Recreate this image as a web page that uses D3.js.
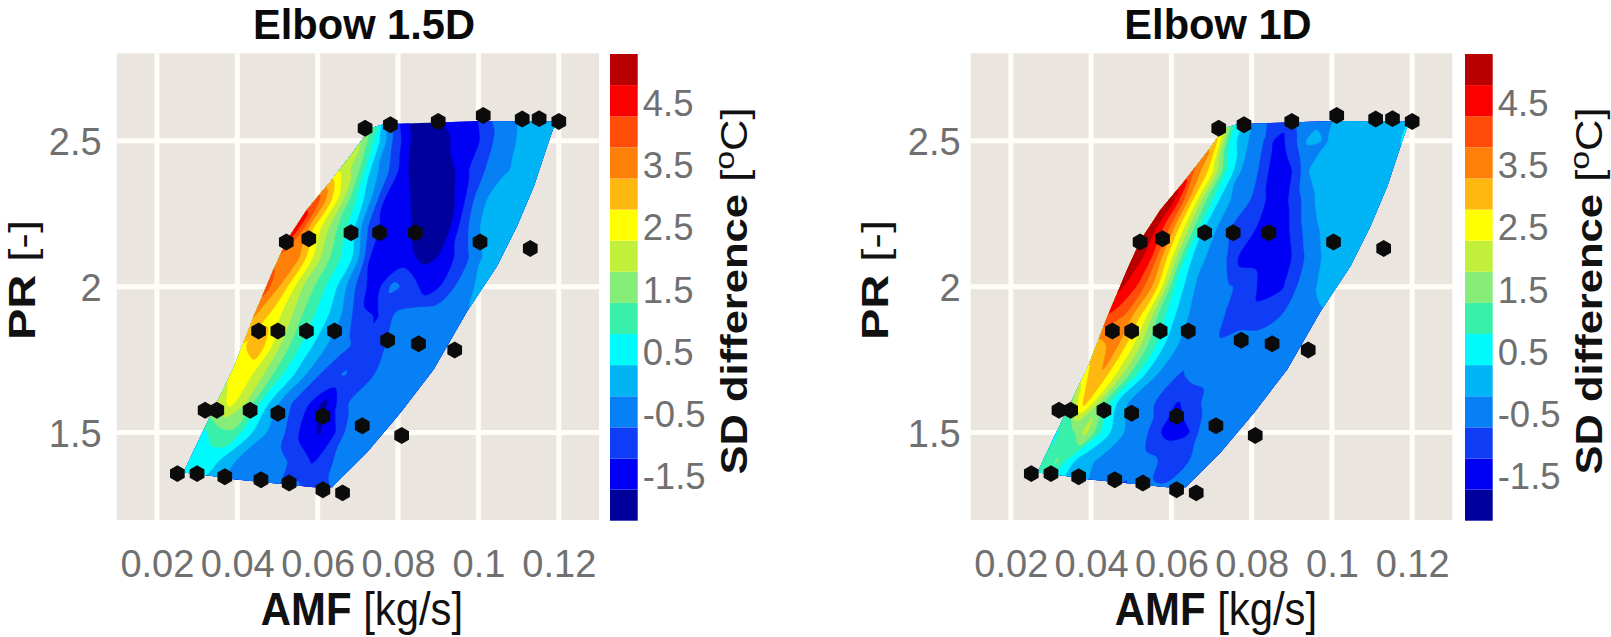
<!DOCTYPE html>
<html>
<head>
<meta charset="utf-8">
<script src="https://cdn.jsdelivr.net/npm/d3@7"></script>
<style>
  html, body { margin: 0; background: #fff; }
  svg { display: block; font-family: "Liberation Sans", Arial, sans-serif; }
  .tick-label { fill: #707070; font-size: 38px; }
  .legend-label { font-size: 36.5px; }
  .title { font-size: 42.5px; font-weight: bold; fill: #0a0a0a; }
  .axis-label { font-size: 46px; fill: #111; }
  .axis-label .b { font-weight: bold; }
</style>
</head>
<body>
<div id="chart"></div>
<script>
const amfTicks = [0.02, 0.04, 0.06, 0.08, 0.1, 0.12];
const prTicks = [1.5, 2, 2.5];
const legendTicks = [-1.5, -0.5, 0.5, 1.5, 2.5, 3.5, 4.5];

// lower edge of each contour band, and its colour
const bandEdges = [-2.25, -1.75, -1.25, -0.75, -0.25, 0.25, 0.75, 1.25, 1.75, 2.25, 2.75, 3.25, 3.75, 4.25, 4.75];
const bandColors = ['#00009c', '#0000f5', '#0f3cf5', '#0880f5', '#00b4f5', '#00fbff', '#38f0aa', '#86ee78',
  '#c2f03a', '#ffff00', '#ffb80f', '#ff8008', '#ff4c08', '#fc0000', '#b80000'];

// test points
const markerAmf = [0.0718, 0.0781, 0.09, 0.1012, 0.1109, 0.1151, 0.12,
  0.0522, 0.0578, 0.0683, 0.0754, 0.0843, 0.1004, 0.1129,
  0.0453, 0.0501, 0.0572, 0.0642, 0.0774, 0.0851, 0.0941,
  0.032, 0.0349, 0.0432, 0.0501, 0.0613, 0.0711, 0.0809,
  0.0251, 0.03, 0.0369, 0.0459, 0.0529, 0.0613, 0.0662];
const markerPr = [2.543, 2.555, 2.566, 2.587, 2.575, 2.576, 2.566,
  2.153, 2.164, 2.185, 2.185, 2.185, 2.153, 2.131,
  1.848, 1.848, 1.848, 1.848, 1.816, 1.804, 1.783,
  1.576, 1.576, 1.576, 1.566, 1.556, 1.523, 1.49,
  1.359, 1.359, 1.348, 1.338, 1.327, 1.304, 1.293];

// outline of the mapped area
const outlineAmf = [0.0266, 0.0333, 0.0391, 0.0441, 0.049, 0.0524, 0.0573, 0.0632, 0.069, 0.0731, 0.0764, 0.1009, 0.1192,
  0.1171, 0.1138, 0.1096, 0.1046, 0.0972, 0.0889, 0.0806, 0.0723, 0.064, 0.0636, 0.059, 0.0391, 0.0333];
const outlinePr = [1.363, 1.557, 1.722, 1.899, 2.059, 2.161, 2.264, 2.361, 2.464, 2.543, 2.557, 2.568, 2.566,
  2.481, 2.344, 2.207, 2.07, 1.916, 1.717, 1.568, 1.432, 1.318, 1.312, 1.312, 1.34, 1.352];

// each field row runs from leftEdge to rightEdge at its PR level
const prLevels = [2.6, 2.5, 2.4, 2.3, 2.2, 2.1, 2.0, 1.9, 1.8, 1.7, 1.6, 1.5, 1.4, 1.3];
const leftEdge = [0.0764, 0.071, 0.0655, 0.0598, 0.0544, 0.0503, 0.047, 0.0441, 0.0416, 0.0383, 0.0345, 0.0312, 0.0279, 0.0246];
const rightEdge = [0.1221, 0.1179, 0.1154, 0.1129, 0.11, 0.1059, 0.1013, 0.0968, 0.0922, 0.0868, 0.081, 0.0752, 0.069, 0.0632];

const sdElbow15 = [
  [0.4, -1.2, -2.1, -2.2, -1.5, -1.0, -1.4, -0.7, -0.5, -0.2, 0, 0, 0],
  [1.7, 0.4, -0.8, -1.7, -2.2, -2.2, -1.5, -1.6, -0.9, -0.5, -0.2, 0, 0],
  [2.2, 1.5, 0, -0.8, -1.7, -2.2, -2.2, -1.7, -1.1, -0.6, -0.3, 0, 0],
  [4.0, 2.5, 1.0, -0.2, -1.5, -1.6, -2.2, -2.2, -1.6, -0.6, 0, 0, 0],
  [4.6, 2.7, 1.5, 0.5, -0.9, -1.6, -1.6, -2.2, -2.1, -1.0, -0.2, 0, 0],
  [3.6, 3.4, 2.0, 1.0, 0.2, -1.4, -1.6, -1.6, -2.0, -1.5, -0.9, -0.2, 0],
  [4.0, 3.0, 1.8, 1.0, 0.2, -0.8, -1.6, -0.6, -1.0, -1.6, -1.0, -0.4, -0.1],
  [3.3, 2.6, 1.9, 1.0, 0.4, -0.3, -1.1, -1.3, -0.7, -0.4, -0.6, -0.5, -0.3],
  [2.7, 3.0, 1.9, 1.0, 0.3, -0.3, -0.6, -1.1, -0.9, -0.5, -0.5, -0.5, -0.5],
  [2.4, 2.5, 1.8, 0.9, 0.2, -0.5, -1.0, -0.7, -1.1, -0.7, -0.5, -0.5, -0.5],
  [1.8, 2.4, 1.7, 0.6, -0.2, -0.8, -1.2, -1.9, -1.1, -0.5, -0.5, -0.5, -0.5],
  [0.6, 1.0, 1.2, 0.5, -0.1, -0.5, -0.9, -1.5, -1.8, -1.3, -0.5, -0.5, -0.5],
  [0.3, 0.4, 0.3, -0.1, -0.5, -0.5, -0.6, -0.7, -1.0, -1.3, -1.0, -0.5, -0.5],
  [0.3, 0.3, 0.1, -0.2, -0.5, -0.5, -0.5, -0.5, -0.8, -0.5, -0.9, -1.0, -0.7]
];

const sdElbow1 = [
  [0.4, -0.1, -0.7, -1.1, -0.6, 0, -0.5, 0, 0, 0, 0, 0, 0.5],
  [3.0, 0.5, -0.2, -0.7, -1.5, -0.9, -0.1, -0.3, 0, 0, 0, 0, 0.3],
  [3.8, 2.6, 0.7, -0.4, -0.8, -1.7, -1.2, -0.2, 0, 0, 0, 0, 0],
  [5.2, 3.3, 1.3, -0.1, -0.5, -1.0, -1.7, -1.0, -0.3, 0.1, 0, 0, 0],
  [5.3, 3.9, 2.0, 0.2, -0.5, -1.1, -1.3, -1.7, -0.9, -0.3, 0, 0, 0],
  [5.3, 4.3, 2.5, 0.4, -0.3, -0.7, -1.5, -1.5, -1.7, -0.9, -0.3, 0, 0],
  [4.9, 4.2, 3.0, 0.8, -0.2, -0.5, -0.7, -0.9, -1.5, -1.3, -0.6, -0.2, -0.1],
  [4.2, 3.7, 2.6, 1.0, 0.1, -0.5, -0.5, -0.9, -1.0, -1.0, -0.7, -0.5, -0.3],
  [3.0, 3.5, 2.4, 1.2, 0.2, -0.4, -0.4, -0.7, -0.5, -0.5, -0.5, -0.5, -0.5],
  [2.6, 3.2, 2.2, 1.0, 0, -0.5, -0.8, -0.5, -0.5, -0.5, -0.5, -0.5, -0.5],
  [1.3, 2.9, 1.6, 0.3, -0.4, -0.6, -0.9, -1.3, -1.0, -0.5, -0.5, -0.5, -0.5],
  [0.7, 1.0, 1.9, 0.8, 0, -0.4, -0.6, -1.2, -1.5, -1.3, -0.5, -0.5, -0.5],
  [0.8, 1.3, 0.4, -0.1, -0.3, -0.4, -0.7, -0.5, -0.6, -1.0, -1.2, -0.5, -0.5],
  [0.6, 0.5, 0.3, 0, -0.2, -0.4, -0.5, -0.9, -0.5, -0.6, -0.6, -0.5, -0.5]
];

const width = 1611, height = 637;
const svg = d3.select('#chart').append('svg').attr('width', width).attr('height', height);

const panelTop = 53.3, panelBottom = 520;
const legendTop = 54, legendBottom = 520.7;

const y = d3.scaleLinear().domain([1.2, 2.8]).range([panelBottom, panelTop]);
const legendY = d3.scaleLinear().domain([bandEdges[0], 5.25]).range([legendBottom, legendTop]);

const hexagon = {
  draw(ctx, size) {
    const r = Math.sqrt(size);
    for (let k = 0; k < 6; k++) {
      const a = (k * Math.PI) / 3;
      if (k === 0) ctx.moveTo(r * Math.sin(a), -r * Math.cos(a));
      else ctx.lineTo(r * Math.sin(a), -r * Math.cos(a));
    }
    ctx.closePath();
  },
};

function drawPanel(id, title, field, left, right, legendLeft, o) {
  const x = d3.scaleLinear().domain([0.01, 0.13]).range([left, right]);
  const g = svg.append('g');

  g.append('rect')
    .attr('x', left).attr('y', panelTop)
    .attr('width', right - left).attr('height', panelBottom - panelTop)
    .attr('fill', '#ebe5df');

  g.append('g').selectAll('line').data(amfTicks).join('line')
    .attr('x1', d => x(d)).attr('x2', d => x(d))
    .attr('y1', panelTop).attr('y2', panelBottom)
    .attr('stroke', '#fffdf8').attr('stroke-width', 5);
  g.append('g').selectAll('line').data(prTicks).join('line')
    .attr('x1', left).attr('x2', right)
    .attr('y1', d => y(d)).attr('y2', d => y(d))
    .attr('stroke', '#fffdf8').attr('stroke-width', 5);

  // axes, no lines, labels only
  const xAxis = g.append('g').attr('transform', `translate(0,${panelBottom})`)
    .call(d3.axisBottom(x).tickValues(amfTicks).tickSize(0).tickPadding(30).tickFormat(String));
  const yAxis = g.append('g').attr('transform', `translate(${left},2)`)
    .call(d3.axisLeft(y).tickValues(prTicks).tickSize(0).tickPadding(o.yPad).tickFormat(String));
  [xAxis, yAxis].forEach(a => {
    a.select('.domain').remove();
    a.selectAll('text').attr('class', 'tick-label').attr('fill', null);
    a.attr('font-size', null).attr('font-family', null);
  });

  // field rows -> contours, padded by one cell so the smoothed rings run past the clip
  const nRows = field.length, nCols = field[0].length;
  const gridW = nCols + 2, gridH = nRows + 2;
  const values = [];
  for (let j = 0; j < gridH; j++) {
    const row = field[Math.min(nRows - 1, Math.max(0, j - 1))];
    for (let i = 0; i < gridW; i++) {
      values.push(row[Math.min(nCols - 1, Math.max(0, i - 1))]);
    }
  }
  const rowIndex = d3.range(nRows);
  const rowPr = d3.scaleLinear().domain(rowIndex).range(prLevels);
  const rowLeft = d3.scaleLinear().domain(rowIndex).range(leftEdge);
  const rowRight = d3.scaleLinear().domain(rowIndex).range(rightEdge);

  const toPixel = ([cx, cy]) => {
    const col = cx - 1.5, row = cy - 1.5;
    const u = col / (nCols - 1);
    const amf = rowLeft(row) + u * (rowRight(row) - rowLeft(row));
    return [x(amf), y(rowPr(row))];
  };

  const clipId = 'clip-' + id;
  svg.append('defs').append('clipPath').attr('id', clipId)
    .append('path')
    .attr('d', d3.line()(outlineAmf.map((d, k) => [x(d), y(outlinePr[k])])) + 'Z');

  const ringPath = d3.line().curve(d3.curveCatmullRomClosed.alpha(0.5));
  const contours = d3.contours().size([gridW, gridH]).thresholds(bandEdges)(values);

  g.append('g').attr('clip-path', `url(#${clipId})`)
    .selectAll('path').data(contours).join('path')
    .attr('d', c => c.coordinates.map(poly =>
      poly.map(ring => ringPath(ring.slice(0, -1).map(toPixel))).join('')).join(''))
    .attr('fill-rule', 'evenodd')
    .attr('fill', (c, k) => bandColors[k])
    .attr('stroke', (c, k) => bandColors[k])
    .attr('stroke-width', 0.4);

  // test points
  const sym = d3.symbol().type(hexagon).size(72);
  g.append('g').selectAll('path').data(markerAmf).join('path')
    .attr('transform', (d, k) => `translate(${x(d)},${y(markerPr[k])})`)
    .attr('d', sym)
    .attr('fill', '#0b0b0b');

  // colour bar
  const barW = 27.7;
  g.append('g').selectAll('rect').data(bandEdges).join('rect')
    .attr('x', legendLeft)
    .attr('y', d => legendY(d + 0.5))
    .attr('width', barW)
    .attr('height', d => legendY(d) - legendY(d + 0.5))
    .attr('fill', (d, k) => bandColors[k]);
  const legendAxis = g.append('g').attr('transform', `translate(${legendLeft + barW},3)`)
    .call(d3.axisRight(legendY).tickValues(legendTicks).tickSize(0).tickPadding(5).tickFormat(String));
  legendAxis.select('.domain').remove();
  legendAxis.selectAll('text').attr('class', 'tick-label legend-label').attr('fill', null);
  legendAxis.attr('font-size', null).attr('font-family', null);

  // texts, stretched or squeezed along their run the way the source image is
  g.append('text').attr('class', 'title').attr('text-anchor', 'middle')
    .attr('transform', `translate(${o.titleX},39) scale(0.98,1)`).text(title);

  const xl = g.append('text').attr('class', 'axis-label').attr('text-anchor', 'middle')
    .attr('transform', `translate(${o.xLabelX},625) scale(0.91,1)`);
  xl.append('tspan').attr('class', 'b').text('AMF');
  xl.append('tspan').text(' [kg/s]');

  const yl = g.append('text').attr('class', 'axis-label').attr('text-anchor', 'middle')
    .attr('transform', `translate(${o.yLabelX},280) rotate(-90) scale(1.27,1)`)
    .style('font-size', '37px');
  yl.append('tspan').attr('class', 'b').text('PR');
  yl.append('tspan').text(' [-]');

  const cl = g.append('text').attr('class', 'axis-label').attr('text-anchor', 'middle')
    .attr('transform', `translate(${legendLeft + 137},291) rotate(-90) scale(1.21,1)`)
    .style('font-size', '36px');
  cl.append('tspan').attr('class', 'b').text('SD difference');
  cl.append('tspan').text(' [');
  cl.append('tspan').attr('dy', -13).style('font-size', '28px').text('o');
  cl.append('tspan').attr('dy', 13).text('C]');
}

drawPanel('a', 'Elbow 1.5D', sdElbow15, 116.7, 599, 610, { titleX: 364, xLabelX: 362, yLabelX: 34.5, yPad: 15 });
drawPanel('b', 'Elbow 1D', sdElbow1, 970.7, 1452.3, 1465, { titleX: 1218, xLabelX: 1216, yLabelX: 888, yPad: 10 });
</script>
</body>
</html>
